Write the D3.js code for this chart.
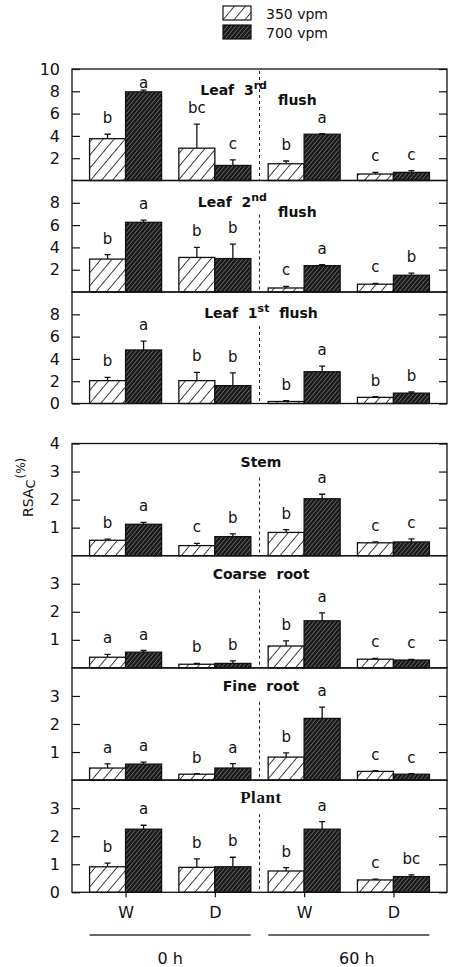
<!DOCTYPE html>
<html>
<head>
<meta charset="utf-8">
<script src="https://cdn.jsdelivr.net/npm/d3@7"></script>
<style>
  body { margin: 0; background: #fff; }
  text { font-family: "DejaVu Sans", sans-serif; fill: #111; }
</style>
</head>
<body>
<script>
// groups along the x axis (water treatment within harvest time)
const groupKeys = ['0W', '0D', '60W', '60D']
const groupLabels = ['W', 'D', 'W', 'D']
const timeLabels = ['0 h', '60 h']
const seriesNames = ['350 vpm', '700 vpm']
const panelNames = ['Leaf 3rd flush', 'Leaf 2nd flush', 'Leaf 1st flush', 'Stem', 'Coarse root', 'Fine root', 'Plant']

// RSAc (%) per panel, one row per panel, one value per group
const mean350 = [
  [3.75, 2.9, 1.5, 0.58],
  [2.95, 3.1, 0.36, 0.7],
  [2.05, 2.05, 0.18, 0.55],
  [0.55, 0.36, 0.83, 0.46],
  [0.38, 0.13, 0.78, 0.31],
  [0.43, 0.21, 0.82, 0.31],
  [0.91, 0.89, 0.76, 0.44]
]
const err350 = [
  [0.4, 2.15, 0.25, 0.15],
  [0.4, 0.9, 0.14, 0.08],
  [0.3, 0.75, 0.07, 0.06],
  [0.04, 0.08, 0.1, 0.03],
  [0.1, 0.03, 0.18, 0.03],
  [0.15, 0.02, 0.15, 0.03],
  [0.13, 0.3, 0.12, 0.03]
]
const mean700 = [
  [7.95, 1.35, 4.15, 0.73],
  [6.25, 3.0, 2.36, 1.5],
  [4.8, 1.6, 2.85, 0.93],
  [1.12, 0.68, 2.03, 0.49],
  [0.56, 0.16, 1.68, 0.28],
  [0.57, 0.43, 2.2, 0.21],
  [2.25, 0.91, 2.25, 0.56]
]
const err700 = [
  [0.15, 0.5, 0.05, 0.15],
  [0.2, 1.3, 0.1, 0.2],
  [0.8, 1.15, 0.5, 0.1],
  [0.07, 0.1, 0.16, 0.11],
  [0.06, 0.09, 0.28, 0.02],
  [0.07, 0.16, 0.4, 0.02],
  [0.14, 0.34, 0.27, 0.06]
]
const letters350 = [
  ['b', 'bc', 'b', 'c'],
  ['b', 'b', 'c', 'c'],
  ['b', 'b', 'b', 'b'],
  ['b', 'c', 'b', 'c'],
  ['a', 'b', 'b', 'c'],
  ['a', 'b', 'b', 'c'],
  ['b', 'b', 'b', 'c']
]
const letters700 = [
  ['a', 'c', 'a', 'c'],
  ['a', 'b', 'a', 'b'],
  ['a', 'b', 'a', 'b'],
  ['a', 'b', 'a', 'c'],
  ['a', 'b', 'a', 'c'],
  ['a', 'a', 'a', 'c'],
  ['a', 'b', 'a', 'bc']
]
const tickValues = [
  [2, 4, 6, 8, 10],
  [2, 4, 6, 8],
  [0, 2, 4, 6, 8],
  [1, 2, 3, 4],
  [1, 2, 3],
  [1, 2, 3],
  [0, 1, 2, 3]
]
const upperDomain = [0, 10]
const lowerDomain = [0, 4]

var W = 451, H = 967
var left = 72, right = 447
var upperTop = 69, upperH = 111.5
var lowerTop = 443.5, lowerH = 112.2
var barW = 36

var svg = d3.select('body')
  .append('svg')
  .attr('width', W)
  .attr('height', H)

// hatch patterns
var defs = svg.append('defs')
var light = defs.append('pattern')
  .attr('id', 'hatchLight')
  .attr('patternUnits', 'userSpaceOnUse')
  .attr('width', 8.4)
  .attr('height', 8.4)
  .attr('patternTransform', 'rotate(40)')
light.append('rect').attr('width', 8.4).attr('height', 8.4).attr('fill', '#fff')
light.append('line')
  .attr('x1', 0).attr('y1', 0).attr('x2', 0).attr('y2', 8.4)
  .attr('stroke', '#111').attr('stroke-width', 1.6)

var dark = defs.append('pattern')
  .attr('id', 'hatchDark')
  .attr('patternUnits', 'userSpaceOnUse')
  .attr('width', 3.2)
  .attr('height', 3.2)
  .attr('patternTransform', 'rotate(40)')
dark.append('rect').attr('width', 3.2).attr('height', 3.2).attr('fill', '#1a1a1a')
dark.append('line')
  .attr('x1', 0).attr('y1', 0).attr('x2', 0).attr('y2', 3.2)
  .attr('stroke', '#b4b4b4').attr('stroke-width', 0.8)

var fills = ['url(#hatchLight)', 'url(#hatchDark)']

// x positions of the groups
var x = d3.scalePoint()
  .domain(groupKeys)
  .range([left, right])
  .padding(0.6)

var divX = (x('0D') + x('60W')) / 2

// legend
var legend = svg.append('g').attr('transform', 'translate(223,6)')
seriesNames.forEach(function (name, i) {
  legend.append('rect')
    .attr('x', 0)
    .attr('y', i * 19)
    .attr('width', 28)
    .attr('height', 14)
    .attr('fill', fills[i])
    .attr('stroke', '#111')
    .attr('stroke-width', 1.2)
  legend.append('text')
    .attr('x', 43)
    .attr('y', i * 19 + 13)
    .style('font-size', '14px')
    .text(name)
})

function panelTitle (g, i, top) {
  var name = panelNames[i]
  var m = name.match(/^(Leaf) (\d)(\w\w) (flush)$/)
  var t
  if (m && i < 2) {
    // title split around the divider line
    t = g.append('text')
      .attr('x', 267)
      .attr('y', top + 26)
      .attr('text-anchor', 'end')
      .style('font-weight', 'bold')
      .style('font-size', '14px')
      .style('white-space', 'pre')
    t.append('tspan').text(m[1] + '  ' + m[2])
    t.append('tspan').attr('dy', -6).style('font-size', '11px').text(m[3])
    g.append('text')
      .attr('x', 278)
      .attr('y', top + 36)
      .style('font-weight', 'bold')
      .style('font-size', '14px')
      .text(m[4])
  } else if (m) {
    t = g.append('text')
      .attr('x', 261)
      .attr('y', top + 26)
      .attr('text-anchor', 'middle')
      .style('font-weight', 'bold')
      .style('font-size', '14px')
      .style('white-space', 'pre')
    t.append('tspan').text(m[1] + '  ' + m[2])
    t.append('tspan').attr('dy', -6).style('font-size', '11px').text(m[3])
    t.append('tspan').attr('dy', 6).text('  ' + m[4])
  } else {
    t = g.append('text')
      .attr('x', 261)
      .attr('y', top + 23)
      .attr('text-anchor', 'middle')
      .style('font-weight', 'bold')
      .style('font-size', '14px')
      .style('white-space', 'pre')
      .text(name.replace(' ', '  '))
    if (name === 'Plant') {
      t.style('font-family', '"Liberation Serif", serif')
        .style('font-size', '17px')
        .style('letter-spacing', '0.6px')
    }
  }
}

function drawPanel (i) {
  var upper = i < 3
  var top = upper ? upperTop + i * upperH : lowerTop + (i - 3) * lowerH
  var h = upper ? upperH : lowerH
  var y = d3.scaleLinear()
    .domain(upper ? upperDomain : lowerDomain)
    .range([top + h, top])
  var g = svg.append('g').attr('class', 'panel')

  // divider between 0 h and 60 h
  g.append('line')
    .attr('x1', divX).attr('x2', divX)
    .attr('y1', i === 0 ? top + 2 : top + 34)
    .attr('y2', top + h)
    .attr('stroke', '#222')
    .attr('stroke-width', 1)
    .attr('stroke-dasharray', '3,3')

  var series = [
    { mean: mean350[i], err: err350[i], letters: letters350[i], dx: -barW },
    { mean: mean700[i], err: err700[i], letters: letters700[i], dx: 0 }
  ]
  series.forEach(function (s, k) {
    var data = groupKeys.map(function (key, j) {
      return { key: key, v: s.mean[j], e: s.err[j], l: s.letters[j] }
    })
    // error bars (upper half only)
    g.selectAll(null).data(data).enter()
      .append('path')
      .attr('d', function (d) {
        var cx = x(d.key) + s.dx + barW / 2
        var y0 = y(d.v), y1 = y(d.v + d.e)
        return 'M' + cx + ',' + y0 + 'V' + y1 + 'M' + (cx - 3) + ',' + y1 + 'H' + (cx + 3)
      })
      .attr('stroke', '#111')
      .attr('stroke-width', 1.3)
      .attr('fill', 'none')
    g.selectAll(null).data(data).enter()
      .append('rect')
      .attr('x', function (d) { return x(d.key) + s.dx })
      .attr('y', function (d) { return y(d.v) })
      .attr('width', barW)
      .attr('height', function (d) { return y(0) - y(d.v) })
      .attr('fill', fills[k])
      .attr('stroke', '#111')
      .attr('stroke-width', 1.3)
    // significance letters
    g.selectAll(null).data(data).enter()
      .append('text')
      .attr('x', function (d) { return x(d.key) + s.dx + barW / 2 })
      .attr('y', function (d) { return Math.max(y(d.v + d.e) - 11, top + 19) })
      .attr('text-anchor', 'middle')
      .style('font-size', '15px')
      .text(function (d) { return d.l })
  })

  panelTitle(g, i, top)

  // left axis, ticks inside
  var yl = g.append('g')
    .attr('transform', 'translate(' + left + ',0)')
    .call(d3.axisLeft(y).tickValues(tickValues[i]).tickSize(-8).tickPadding(12).tickFormat(d3.format('d')))
  yl.select('.domain').remove()
  yl.selectAll('line').attr('stroke', '#111').attr('stroke-width', 1.2)
  yl.selectAll('text')
    .style('font-size', '16px')
    .attr('fill', '#111')
    .attr('font-family', null)

  // right axis, ticks inside, no labels
  var yr = g.append('g')
    .attr('transform', 'translate(' + right + ',0)')
    .call(d3.axisRight(y).tickValues(tickValues[i]).tickSize(-8).tickFormat(''))
  yr.select('.domain').remove()
  yr.selectAll('line').attr('stroke', '#111').attr('stroke-width', 1.2)

  // panel box
  g.append('rect')
    .attr('x', left)
    .attr('y', top)
    .attr('width', right - left)
    .attr('height', h)
    .attr('fill', 'none')
    .attr('stroke', '#111')
    .attr('stroke-width', 1.3)

  if (i === panelNames.length - 1) {
    var xa = g.append('g')
      .attr('transform', 'translate(0,' + (top + h) + ')')
      .call(d3.axisBottom(x).tickSize(5).tickPadding(9).tickFormat(function (d, j) { return groupLabels[j] }))
    xa.select('.domain').remove()
    xa.selectAll('line').attr('stroke', '#111').attr('stroke-width', 1.2)
    xa.selectAll('text').style('font-size', '16px').attr('fill', '#111')
  }
}

for (var i = 0; i < panelNames.length; i++) drawPanel(i)

// harvest-time brackets
timeLabels.forEach(function (label, j) {
  var cx = (x(groupKeys[j * 2]) + x(groupKeys[j * 2 + 1])) / 2
  svg.append('line')
    .attr('x1', cx - 80.5).attr('x2', cx + 80.5)
    .attr('y1', 935).attr('y2', 935)
    .attr('stroke', '#333')
    .attr('stroke-width', 1.4)
  svg.append('text')
    .attr('x', cx + (j === 1 ? 8 : 0))
    .attr('y', 964)
    .attr('text-anchor', 'middle')
    .style('font-size', '16px')
    .style('white-space', 'pre')
    .text(label)
})

// y axis title
var yt = svg.append('text')
  .attr('transform', 'translate(33,517) rotate(-90)')
  .style('font-size', '14px')
yt.append('tspan').text('RSA')
yt.append('tspan').attr('dy', 2).style('font-size', '13px').text('C')
yt.append('tspan').attr('dy', -10).attr('dx', 1).style('font-size', '12px').text('(%)')
</script>
</body>
</html>
